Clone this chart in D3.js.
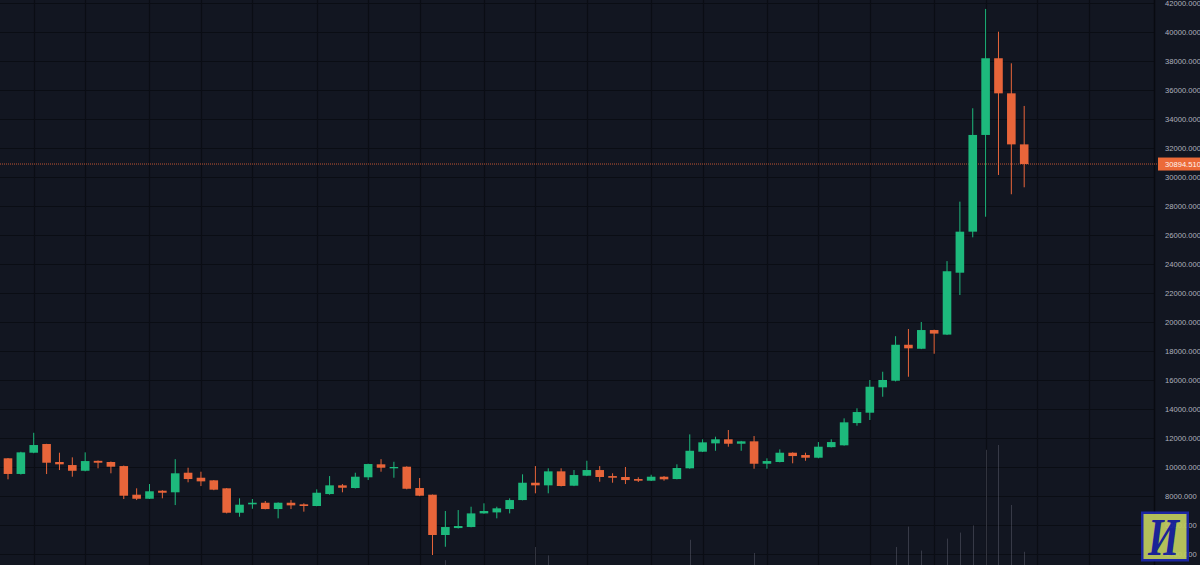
<!DOCTYPE html>
<html>
<head>
<meta charset="utf-8">
<script src="https://cdn.jsdelivr.net/npm/d3@7"></script>
<style>
  html, body { margin: 0; padding: 0; background: #121621; overflow: hidden; }
</style>
</head>
<body>
<div id="app"></div>
<script>
// weekly candles, first week 2019-07-22, last week 2021-01-25
const firstWeek = new Date(Date.UTC(2019, 6, 22));
const lastWeek = new Date(Date.UTC(2021, 0, 25));

const open = [
  10600, 9520, 10985, 11585, 10345, 10135, 9740, 10425, 10345, 10065,
  8090, 7810, 8365, 8255, 9605, 9260, 9080, 8530, 6845, 7425,
  7535, 7100, 7535, 7425, 7310, 8135, 8735, 8550, 9290, 10185,
  9910, 10020, 8550, 8090, 5310, 5790, 5860, 6800, 6870, 7100,
  7720, 8915, 8735, 9700, 8710, 9400, 9790, 9375, 9310, 9170,
  9055, 9330, 9170, 9910, 11055, 11630, 11910, 11605, 11770, 10225,
  10345, 10985, 10825, 10640, 11370, 11495, 13030, 13745, 15495, 15950,
  18430, 18155, 19445, 19130, 23400, 26230, 32900, 38190, 35770, 32250
];
const high = [
  10620, 11050, 12360, 11600, 10985, 10665, 11010, 10450, 10380, 10100,
  8530, 8825, 8400, 10540, 9950, 9675, 9100, 8550, 7840, 7790,
  7655, 7560, 7720, 7495, 8460, 9375, 8825, 9605, 10230, 10540,
  10360, 10050, 9240, 8100, 6965, 7030, 7260, 7495, 7260, 7840,
  9495, 10065, 9910, 9910, 9790, 10430, 10065, 9565, 10000, 9290,
  9465, 9380, 10185, 12250, 11910, 12090, 12550, 11800, 12135, 10600,
  11215, 11010, 10985, 11720, 11910, 13355, 14050, 16000, 16570, 19020,
  19515, 20000, 19470, 24200, 28300, 34740, 41590, 40020, 37840, 34900
];
const low = [
  9150, 9480, 10950, 9515, 9790, 9330, 9700, 9910, 9565, 7790,
  7720, 7790, 7840, 7375, 8945, 8685, 8400, 6800, 6570, 7120,
  7080, 6460, 7100, 6920, 7290, 8090, 8255, 8520, 9100, 9675,
  9260, 8460, 7990, 3930, 4500, 5760, 5840, 6780, 6460, 6800,
  7700, 8185, 8185, 8660, 8680, 9370, 8985, 8915, 8825, 8965,
  9030, 9055, 9150, 9880, 11030, 11120, 11400, 11120, 9880, 9880,
  10320, 10255, 10430, 10600, 11350, 11470, 12850, 13240, 14845, 15900,
  16225, 18130, 17810, 19100, 21860, 25840, 27260, 30140, 28810, 29290
];
const close = [
  9520, 11010, 11515, 10295, 10185, 9740, 10410, 10295, 10020, 8020,
  7810, 8325, 8225, 9565, 9170, 9010, 8435, 6845, 7400, 7535,
  7100, 7535, 7355, 7310, 8225, 8735, 8570, 9330, 10205, 9950,
  10000, 8500, 8020, 5310, 5860, 5930, 6800, 6965, 7150, 7720,
  8915, 8735, 9700, 8690, 9445, 9790, 9310, 9260, 9100, 9055,
  9330, 9150, 9930, 11120, 11700, 11910, 11605, 11770, 10225, 10410,
  10985, 10755, 10640, 11400, 11720, 13080, 13790, 15535, 16000, 18430,
  18185, 19445, 19200, 23500, 26230, 32900, 38190, 35770, 32250, 30894.51
];
// volume, only the tallest bars reach into view
const volume = [
  0, 0, 0, 0, 0, 0, 0, 0, 0, 0,
  0, 0, 0, 0, 0, 0, 0, 0, 0, 0,
  0, 0, 0, 0, 0, 0, 0, 0, 0, 0,
  0, 0, 0, 0, 4, 0, 0, 0, 0, 0,
  0, 15, 8, 0, 0, 0, 0, 0, 0, 0,
  0, 0, 0, 21, 0, 0, 0, 0, 10, 0,
  0, 0, 0, 0, 0, 0, 0, 0, 0, 15,
  32, 12, 0, 22, 27, 33, 96, 100, 50, 11
];
const priceTicks = d3.range(4000, 42001, 2000);

const chart = () => {
  const width = 1200;
  const height = 565;
  const plotRight = 1154;

  const weeks = d3.utcMonday.range(firstWeek, d3.utcDay.offset(lastWeek, 1));
  const candles = weeks.map((date, i) => ({
    date,
    open: open[i],
    high: high[i],
    low: low[i],
    close: close[i],
    volume: volume[i],
  }));

  const x = d3.scaleUtc().domain([firstWeek, lastWeek]).range([8, 1024.2]);
  const y = d3.scaleLinear().domain([4000, 42000]).range([554, 3]);
  const yVol = d3.scaleLinear().domain([0, 100]).range([height, 445]);

  const green = "#1db97c";
  const red = "#e8653a";
  const bodyW = 8.6;

  const svg = d3
    .create("svg")
    .attr("width", width)
    .attr("height", height)
    .style("display", "block");

  svg.append("rect").attr("width", width).attr("height", height).attr("fill", "#121621");

  // grid
  const monthLines = d3
    .utcMonth.range(new Date(Date.UTC(2019, 7, 1)), new Date(Date.UTC(2021, 3, 1)))
    .map((m) => d3.utcMonday.ceil(m));

  svg
    .append("g")
    .selectAll("line")
    .data(priceTicks)
    .join("line")
    .attr("x1", 0)
    .attr("x2", plotRight)
    .attr("y1", (d) => Math.round(y(d)) + 0.5)
    .attr("y2", (d) => Math.round(y(d)) + 0.5)
    .attr("stroke", "#0a0d14")
    .attr("stroke-width", 1.2);

  svg
    .append("g")
    .selectAll("line")
    .data(monthLines)
    .join("line")
    .attr("x1", (d) => Math.round(x(d)) + 0.5)
    .attr("x2", (d) => Math.round(x(d)) + 0.5)
    .attr("y1", 0)
    .attr("y2", height)
    .attr("stroke", "#0a0d14")
    .attr("stroke-width", 1.2);

  svg
    .append("line")
    .attr("x1", plotRight + 0.5)
    .attr("x2", plotRight + 0.5)
    .attr("y1", 0)
    .attr("y2", height)
    .attr("stroke", "#080a10")
    .attr("stroke-width", 1.5);

  // volume
  svg
    .append("g")
    .selectAll("line")
    .data(candles.filter((d) => d.volume > 0))
    .join("line")
    .attr("x1", (d) => Math.round(x(d.date)) + 0.5)
    .attr("x2", (d) => Math.round(x(d.date)) + 0.5)
    .attr("y1", height)
    .attr("y2", (d) => yVol(d.volume))
    .attr("stroke", "rgba(150,156,172,0.28)")
    .attr("stroke-width", 1);

  // price line of last close
  const last = candles[candles.length - 1];
  svg
    .append("line")
    .attr("x1", 0)
    .attr("x2", plotRight + 4)
    .attr("y1", y(last.close))
    .attr("y2", y(last.close))
    .attr("stroke", red)
    .attr("stroke-opacity", 0.8)
    .attr("stroke-width", 1)
    .attr("stroke-dasharray", "1,1");

  // candles
  const g = svg
    .append("g")
    .selectAll("g")
    .data(candles)
    .join("g")
    .attr("fill", (d) => (d.close >= d.open ? green : red))
    .attr("stroke", (d) => (d.close >= d.open ? green : red));

  g.append("line")
    .attr("x1", (d) => x(d.date))
    .attr("x2", (d) => x(d.date))
    .attr("y1", (d) => y(d.high))
    .attr("y2", (d) => y(d.low))
    .attr("stroke-width", 1);

  g.append("rect")
    .attr("x", (d) => x(d.date) - bodyW / 2)
    .attr("width", bodyW)
    .attr("y", (d) => y(Math.max(d.open, d.close)))
    .attr("height", (d) => Math.max(1.2, Math.abs(y(d.open) - y(d.close))))
    .attr("stroke", "none");

  // price axis
  svg
    .append("g")
    .attr("transform", "translate(1165,0)")
    .call(
      d3
        .axisRight(y)
        .tickValues(priceTicks)
        .tickFormat(d3.format(".3f"))
        .tickSize(0)
        .tickPadding(0)
    )
    .call((a) => a.select(".domain").remove())
    .call((a) =>
      a
        .selectAll("text")
        .attr("fill", "#aeb2bd")
        .style("font-family", "'Liberation Sans', Arial, sans-serif")
        .style("font-size", "7.6px")
    );

  // last price label
  svg
    .append("rect")
    .attr("x", 1158)
    .attr("y", y(last.close) - 6.5)
    .attr("width", 44)
    .attr("height", 13)
    .attr("fill", "#ec6a38");

  svg
    .append("text")
    .text(d3.format(".3f")(last.close))
    .attr("x", 1165)
    .attr("y", y(last.close))
    .attr("dy", "0.33em")
    .attr("fill", "#fff4ee")
    .style("font-family", "'Liberation Sans', Arial, sans-serif")
    .style("font-size", "7.6px");

  // logo
  const logo = svg.append("g").attr("opacity", 0.93);
  logo
    .append("rect")
    .attr("x", 1141)
    .attr("y", 511.5)
    .attr("width", 48)
    .attr("height", 50)
    .attr("fill", "#1d28ab");
  logo
    .append("rect")
    .attr("x", 1143.5)
    .attr("y", 514)
    .attr("width", 43)
    .attr("height", 45)
    .attr("fill", "#c0cc5f");
  logo
    .append("text")
    .text("И")
    .attr("x", 1148)
    .attr("y", 554.5)
    .attr("textLength", 31)
    .attr("lengthAdjust", "spacingAndGlyphs")
    .attr("fill", "#1b24a0")
    .style("font-family", "'Liberation Serif', 'DejaVu Serif', serif")
    .style("font-weight", "bold")
    .style("font-style", "italic")
    .style("font-size", "52px");

  return svg.node();
};

d3.select("#app").append(chart);
</script>
</body>
</html>
